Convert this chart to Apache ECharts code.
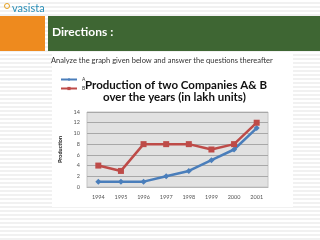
<!DOCTYPE html>
<html>
<head>
<meta charset="utf-8">
<script src="https://cdn.jsdelivr.net/npm/echarts@6/dist/echarts.min.js"></script>
<style>
  html, body { margin: 0; padding: 0; }
  body {
    width: 320px; height: 240px; overflow: hidden;
    background: repeating-linear-gradient(to bottom, #ffffff 0px, #ffffff 2px, #f1f1f1 2px, #f1f1f1 4px);
  }
  #chart { width: 320px; height: 240px; }
</style>
</head>
<body>
<div id="chart"></div>
<script>
// 数据
var years = ['1994', '1995', '1996', '1997', '1998', '1999', '2000', '2001'];
var companyA = [1, 1, 1, 2, 3, 5, 7, 11];
var companyB = [4, 3, 8, 8, 8, 7, 8, 12];
var yTicks = [0, 2, 4, 6, 8, 10, 12, 14];

var chart = echarts.init(document.getElementById('chart'));

var option = {
  animation: false,
  textStyle: { fontFamily: 'Lato, "Open Sans", sans-serif' },
  graphic: [
    // 图片白底
    { type: 'rect', z: -10, shape: { x: 52, y: 52, width: 241, height: 155 }, style: { fill: '#ffffff' } },
    // 顶部色块
    { type: 'rect', shape: { x: 0, y: 16, width: 45, height: 35 }, style: { fill: '#ee8a1e' } },
    { type: 'rect', shape: { x: 48, y: 16, width: 272, height: 35 }, style: { fill: '#3e6633' } },
    { type: 'text', left: 52, top: 26, style: { text: 'Directions :', fill: '#ffffff', font: 'bold 12px Lato, sans-serif' } },
    { type: 'text', left: 12, top: 3, style: { text: 'vasista', fill: '#2a8fb8', font: '11px Lato, sans-serif' } },
    { type: 'circle', shape: { cx: 7, cy: 6, r: 2.5 }, style: { fill: 'none', stroke: '#e5a020', lineWidth: 1 } },
    { type: 'text', left: 51, top: 57, style: { text: 'Analyze the graph given below and answer the questions thereafter', fill: '#333333', font: '7.5px Lato, sans-serif' } },
    // 标题
    { type: 'text', left: 85, top: 79, style: { text: 'Production of two Companies A& B', fill: '#111111', font: 'bold 11.5px Lato, sans-serif' } },
    { type: 'text', left: 103, top: 91, style: { text: 'over the years (in lakh units)', fill: '#111111', font: 'bold 11.5px Lato, sans-serif' } }
  ],
  legend: {
    left: 55, top: 72,
    orient: 'vertical',
    itemWidth: 16, itemHeight: 4, itemGap: 4,
    textStyle: { fontSize: 5, color: '#333' },
    data: ['A', 'B']
  },
  grid: {
    left: 87, right: 52, top: 112, bottom: 53,
    show: true,
    backgroundColor: '#e1e1e1',
    borderColor: '#c4c4c4',
    borderWidth: 1
  },
  xAxis: {
    type: 'category',
    data: years,
    boundaryGap: true,
    axisTick: { show: false },
    axisLine: { lineStyle: { color: '#b5b5b5' } },
    axisLabel: { fontSize: 5.5, color: '#555', margin: 7 }
  },
  yAxis: {
    type: 'value',
    min: yTicks[0],
    max: yTicks[yTicks.length - 1],
    interval: 2,
    name: 'Production',
    nameLocation: 'middle',
    nameGap: 19,
    nameRotate: 90,
    nameTextStyle: { fontSize: 5.5, fontWeight: 'bold', color: '#222' },
    axisLine: { show: false },
    axisTick: { show: false },
    axisLabel: { fontSize: 5.5, color: '#555', margin: 7 },
    splitLine: { lineStyle: { color: '#a8a8a8', width: 1 } }
  },
  series: [
    {
      name: 'A',
      type: 'line',
      data: companyA,
      symbol: 'diamond',
      symbolSize: 6,
      lineStyle: { color: '#4a7ebb', width: 2.5 },
      itemStyle: { color: '#4a7ebb' }
    },
    {
      name: 'B',
      type: 'line',
      data: companyB,
      symbol: 'rect',
      symbolSize: 6,
      lineStyle: { color: '#be4b48', width: 2.5 },
      itemStyle: { color: '#be4b48' }
    }
  ]
};

chart.setOption(option);
</script>
</body>
</html>
